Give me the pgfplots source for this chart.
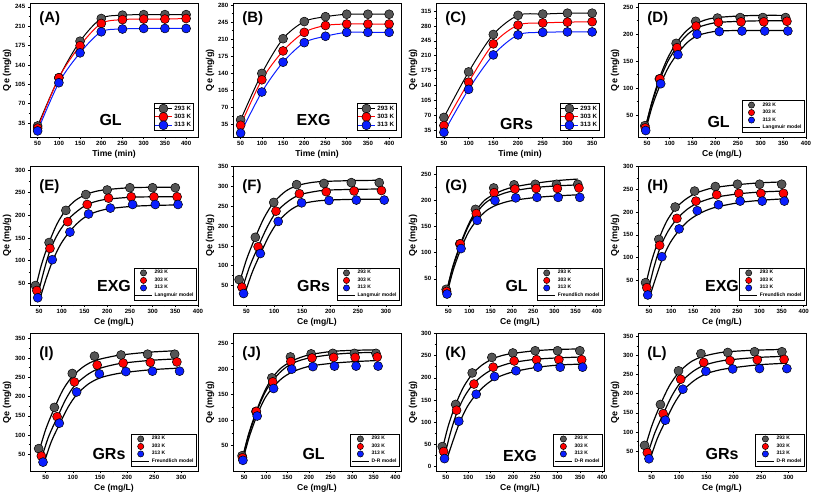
\documentclass[border=0pt]{standalone}
\usepackage{pgfplots}
\usepackage{pgfplotstable}
\pgfplotsset{compat=1.18}
\usepackage{fontspec}
\setmainfont{Liberation Sans}
\definecolor{mgray}{HTML}{555555}
\definecolor{mred}{HTML}{FF0000}
\definecolor{mblue}{HTML}{0A1EFF}
\pgfplotsset{
  panel/.style={
    scale only axis, width=168pt, clip=false,
    axis line style={line width=0.9pt},
    tick align=outside, xtick pos=bottom, ytick pos=left,
    minor x tick num=1, minor y tick num=1,
    major tick length=2.2pt, minor tick length=1.3pt,
    tick style={black, line width=0.6pt},
    ticklabel style={font=\bfseries\fontsize{6.1}{6.5}\selectfont},
    /pgf/number format/assume math mode=true,
    xlabel style={font=\bfseries\fontsize{8.6}{9}\selectfont, yshift=3pt},
    ylabel style={font=\bfseries\fontsize{9}{9}\selectfont, yshift=-3pt},
    xticklabel style={yshift=1pt}, yticklabel style={xshift=1pt},
    legend cell align=left,
  },
  kin/.style={panel, xlabel={Time (min)}, ylabel={Qe (mg/g)},
    legend style={at={(0.975,0.045)}, anchor=south east, draw=black, line width=0.6pt,
      font=\bfseries\fontsize{6.2}{6.2}\selectfont, inner sep=0.5pt, row sep=-1.5pt}},
  iso/.style={panel, xlabel={Ce (mg/L)}, ylabel={Qe (mg/g)},
    legend style={at={(0.99,0.03)}, anchor=south east, draw=black, line width=0.6pt,
      font=\bfseries\fontsize{5}{5}\selectfont, inner sep=0.5pt, row sep=-1.5pt},
    legend image post style={mark size=3.1pt}},
  mk/.style={mark=*, mark size=4.5pt, mark options={draw=black, line width=0.5pt, fill=#1}},
  fit/.style={black, line width=1.2pt, smooth, no marks},
}
% kinetic / equilibrium data: t, Ce and Qe for 293, 303, 313 K
\pgfplotstableread{
t   xg  yg   xr  yr   xb  yb
50  45  30   46  26   47  21
100 77  117  78  117  80  108
150 114 183  116 175  118 162
200 157 224  158 215  160 200
250 205 230  207 222  209 205
300 255 231  257 223  259 206
350 305 231  307 223  309 206
400 355 231  358 224  360 206
}\GL
\pgfplotstableread{
t   xg  yg   xr  yr   xb  yb
50  42  45   45  34   47  18
100 72  140  74  127  79  102
150 109 211  113 186  118 163
200 153 246  156 224  159 203
250 200 256  203 238  207 216
300 250 261  253 241  256 224
350 300 261  303 241  306 224
400 350 261  354 241  356 224
}\EXG
\pgfplotstableread{
t   xg  yg   xr  yr   xb  yb
50  37  65   42  46   45  30
100 66  172  71  148  75  131
150 99  260  103 238  107 212
200 140 305  145 282  149 259
250 189 308  193 287  198 265
300 238 310  243 289  247 266
350 288 310  292 290  297 266
}\GRs
% model curves
\pgfplotstableread{
xg yg xr yr xb yb
45 22 45 22 47 22
60 72 60 70 62 68
77 118 78 115 80 108
95 155 96 150 98 140
114 183 116 177 118 165
135 205 137 198 139 185
157 219 158 211 160 197
180 227 182 218 185 203
205 231 207 222 209 206
255 234 257 224 259 207
305 235 307 225 309 207
355 235 358 225 360 207
}\fD
\pgfplotstableread{
xg yg xr yr xb yb
40 30 45 15 50 10
55 90 60 75 65 58
72 140 75 125 80 100
90 182 93 162 98 137
109 212 113 190 118 165
130 233 135 210 138 186
153 246 156 224 159 201
175 253 180 232 183 210
200 257 203 236 207 215
250 261 253 240 256 220
300 262 303 241 306 222
350 262 354 241 356 223
}\fE
\pgfplotstableread{
xg yg xr yr xb yb
35 45 40 30 45 20
50 115 55 95 60 82
66 172 71 148 75 130
82 222 87 197 91 177
99 260 103 235 107 212
120 288 125 263 128 240
140 302 145 279 149 256
165 310 170 287 173 263
189 313 193 291 198 266
238 315 243 293 247 268
290 316 292 294 297 268
}\fF
\pgfplotstableread{
xg yg xr yr xb yb
45 22 45 22 47 22
60 72 60 70 62 68
80 120 80 117 80 108
98 155 98 152 98 140
115 180 116 176 118 163
135 200 137 195 139 180
158 212 158 206 160 190
180 220 182 214 185 197
205 226 207 219 209 201
255 233 257 225 259 206
305 238 307 228 309 209
355 241 358 230 360 211
}\fG
\pgfplotstableread{
xg yg xr yr xb yb
40 30 45 15 50 10
55 90 60 75 65 55
72 140 75 122 80 97
90 180 93 158 98 133
109 207 113 185 118 160
130 226 135 205 138 180
153 240 156 218 159 194
175 248 180 227 183 205
200 254 203 233 207 212
250 260 253 240 256 221
300 264 303 244 306 226
350 266 354 246 356 229
}\fH
\pgfplotstableread{
xg yg xr yr xb yb
35 45 40 30 45 20
50 115 55 95 60 82
66 170 71 145 75 127
82 218 87 193 91 172
99 252 103 228 107 205
120 278 125 255 128 232
140 293 145 271 149 248
165 302 170 281 173 257
189 308 193 287 198 263
238 315 243 294 247 270
290 319 292 298 297 274
}\fI
\pgfplotstableread{
xg yg xr yr xb yb
45 22 45 22 47 22
60 72 60 70 62 68
80 122 80 119 80 110
98 158 98 154 98 143
115 183 116 178 118 166
135 202 137 197 139 183
158 215 158 210 160 194
180 223 182 218 185 202
205 229 207 223 209 207
255 235 257 229 259 212
305 237 307 232 309 215
355 238 358 233 360 217
}\fJ
\pgfplotstableread{
xg yg xr yr xb yb
40 30 45 15 50 10
55 90 60 75 65 55
72 140 75 122 80 97
90 180 93 160 98 135
109 208 113 188 118 163
130 228 135 207 138 183
153 242 156 220 159 198
175 250 180 229 183 208
200 255 203 235 207 215
250 261 253 242 256 224
300 264 303 245 306 229
350 265 354 247 356 231
}\fK
\pgfplotstableread{
xg yg xr yr xb yb
35 45 40 30 45 20
50 115 55 95 60 82
66 172 71 147 75 128
82 220 87 195 91 174
99 255 103 230 107 208
120 282 125 258 128 235
140 296 145 274 149 252
165 305 170 284 173 262
189 310 193 289 198 268
238 314 243 295 247 276
290 316 292 298 297 280
}\fL
\newcommand{\kinplots}[1]{%
  \addplot[black, line width=1pt, smooth, mk=mgray] table[x=t,y=yg]{#1};
  \addplot[mred, line width=1pt, smooth, mk=mred] table[x=t,y=yr]{#1};
  \addplot[mblue, line width=1pt, smooth, mk=mblue] table[x=t,y=yb]{#1};
  \legend{293 K, 303 K, 313 K}}
\newcommand{\isoplots}[3]{%
  \addplot[only marks, mk=mgray] table[x=xg,y=yg]{#1};
  \addplot[only marks, mk=mred] table[x=xr,y=yr]{#1};
  \addplot[only marks, mk=mblue] table[x=xb,y=yb]{#1};
  \addplot[fit] table[x=xg,y=yg]{#2};
  \addplot[fit, forget plot] table[x=xr,y=yr]{#2};
  \addplot[fit, forget plot] table[x=xb,y=yb]{#2};
  \legend{293 K, 303 K, 313 K, #3}}
\newcommand{\plab}[2]{\node[anchor=north west, font=\bfseries\fontsize{15}{15}\selectfont] at (rel axis cs:0.035,#2) {#1};}
\newcommand{\pname}[3]{\node[font=\bfseries\fontsize{16}{16}\selectfont] at (rel axis cs:#2,#3) {#1};}
\begin{document}
\begin{tikzpicture}
\path[use as bounding box] (0,0) rectangle (813pt,-495pt);
% ---------------- row 1
\begin{axis}[kin, at={(30pt,-137pt)}, anchor=south west, height=134pt,
  xmin=32, xmax=428, ymin=10, ymax=252, xtick={50,100,...,400}, ytick={35,70,...,245}]
\kinplots{\GL}
\plab{(A)}{0.96}\pname{GL}{0.48}{0.13}
\end{axis}
\begin{axis}[kin, at={(233pt,-137pt)}, anchor=south west, height=134pt,
  xmin=32, xmax=428, ymin=10, ymax=284, xtick={50,100,...,400}, ytick={35,70,...,280}]
\kinplots{\EXG}
\plab{(B)}{0.96}\pname{EXG}{0.48}{0.13}
\end{axis}
\begin{axis}[kin, at={(436pt,-137pt)}, anchor=south west, height=134pt,
  xmin=34, xmax=374, ymin=19, ymax=334, xtick={50,100,...,350}, ytick={35,70,...,315}]
\kinplots{\GRs}
\plab{(C)}{0.96}\pname{GRs}{0.48}{0.10}
\end{axis}
\begin{axis}[iso, at={(638pt,-137pt)}, anchor=south west, height=134pt,
  xmin=30, xmax=400, ymin=9, ymax=258, xtick={50,100,...,400}, ytick={50,100,...,250}]
\isoplots{\GL}{\fD}{Langmuir model}
\plab{(D)}{0.96}\pname{GL}{0.48}{0.11}
\end{axis}
% ---------------- row 2
\begin{axis}[iso, at={(30pt,-305pt)}, anchor=south west, height=139pt,
  xmin=30, xmax=400, ymin=2, ymax=309, xtick={50,100,...,400}, ytick={50,100,...,300}]
\isoplots{\EXG}{\fE}{Langmuir model}
\plab{(E)}{0.93}\pname{EXG}{0.5}{0.135}
\end{axis}
\begin{axis}[iso, at={(233pt,-305pt)}, anchor=south west, height=139pt,
  xmin=26, xmax=327, ymin=1, ymax=352, xtick={50,100,...,300}, ytick={50,100,...,350}]
\isoplots{\GRs}{\fF}{Langmuir model}
\plab{(F)}{0.93}\pname{GRs}{0.48}{0.135}
\end{axis}
\begin{axis}[iso, at={(436pt,-305pt)}, anchor=south west, height=139pt,
  xmin=21, xmax=417, ymin=0, ymax=266, xtick={50,100,...,400}, ytick={50,100,...,250}]
\isoplots{\GL}{\fG}{Freundlich model}
\plab{(G)}{0.93}\pname{GL}{0.48}{0.135}
\end{axis}
\begin{axis}[iso, at={(638pt,-305pt)}, anchor=south west, height=139pt,
  xmin=25, xmax=405, ymin=-4, ymax=301, xtick={50,100,...,400}, ytick={50,100,...,300}]
\isoplots{\EXG}{\fH}{Freundlich model}
\plab{(H)}{0.93}\pname{EXG}{0.5}{0.135}
\end{axis}
% ---------------- row 3
\begin{axis}[iso, at={(30pt,-471pt)}, anchor=south west, height=138pt,
  xmin=21, xmax=331, ymin=7, ymax=365, xtick={50,100,...,300}, ytick={50,100,...,350}]
\isoplots{\GRs}{\fI}{Freundlich model}
\plab{(I)}{0.93}\pname{GRs}{0.47}{0.12}
\end{axis}
\begin{axis}[iso, at={(233pt,-471pt)}, anchor=south west, height=138pt,
  xmin=24, xmax=413, ymin=0, ymax=271, xtick={50,100,...,400}, ytick={50,100,...,250}]
\isoplots{\GL}{\fJ}{D-R model}
\plab{(J)}{0.93}\pname{GL}{0.48}{0.12}
\end{axis}
\begin{axis}[iso, at={(436pt,-471pt)}, anchor=south west, height=138pt,
  xmin=28, xmax=404, ymin=-10, ymax=301, xtick={50,100,...,400}, ytick={0,50,...,300}]
\isoplots{\EXG}{\fK}{D-R model}
\plab{(K)}{0.93}\pname{EXG}{0.5}{0.11}
\end{axis}
\begin{axis}[iso, at={(638pt,-471pt)}, anchor=south west, height=138pt,
  xmin=25, xmax=332, ymin=-2, ymax=359, xtick={50,100,...,300}, ytick={50,100,...,350}]
\isoplots{\GRs}{\fL}{D-R model}
\plab{(L)}{0.93}\pname{GRs}{0.5}{0.12}
\end{axis}
\end{tikzpicture}
\end{document}
